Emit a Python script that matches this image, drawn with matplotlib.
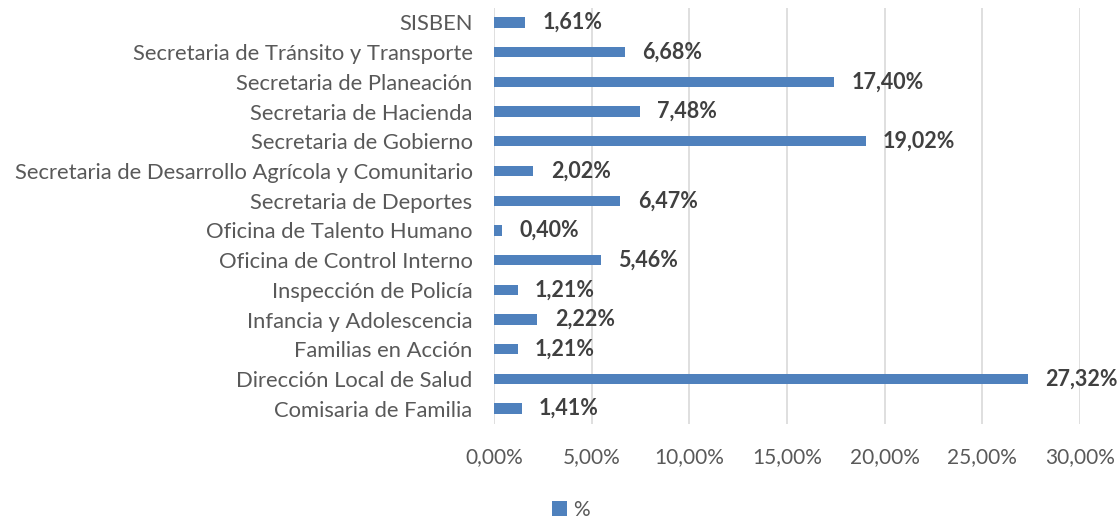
import matplotlib
matplotlib.use('Agg')
import matplotlib.pyplot as plt
from matplotlib.ticker import FuncFormatter

categories = ['Comisaria de Familia', 'Dirección Local de Salud', 'Familias en Acción',
              'Infancia y Adolescencia', 'Inspección de Policía', 'Oficina de Control Interno',
              'Oficina de Talento Humano', 'Secretaria de Deportes',
              'Secretaria de Desarrollo Agrícola y Comunitario', 'Secretaria de Gobierno',
              'Secretaria de Hacienda', 'Secretaria de Planeación',
              'Secretaria de Tránsito y Transporte', 'SISBEN']
values = [1.41, 27.32, 1.21, 2.22, 1.21, 5.46, 0.40, 6.47, 2.02, 19.02, 7.48, 17.40, 6.68, 1.61]
x_ticks = [0, 5, 10, 15, 20, 25, 30]

plt.rcParams['font.family'] = ['Lato', 'DejaVu Sans']

fig = plt.figure(figsize=(11.2, 5.21), dpi=100)
ax = fig.add_axes([0.4411, 0.1871, 0.5232, 0.7983])

ypos = range(len(categories))
bars = ax.barh(ypos, values, height=0.35, color='#4F81BD', label='%', zorder=3)

# data labels, a fixed offset to the right of each bar
for y, v in zip(ypos, values):
    ax.annotate(f'{v:.2f}%'.replace('.', ','), (v, y), xytext=(12.5, 0),
                textcoords='offset points', ha='left', va='center',
                fontsize=15.5, fontweight='bold', color='#404040')

ax.set_xlim(0, 30)
ax.set_ylim(-0.5, len(categories) - 0.5)
ax.set_yticks(list(ypos))
ax.set_yticklabels(categories, fontsize=15.8)
ax.set_xticks(x_ticks)
ax.xaxis.set_major_formatter(FuncFormatter(lambda v, p: f'{v:.2f}%'.replace('.', ',')))

ax.grid(axis='x', color='#D9D9D9', linewidth=1.2, zorder=0)
for s in ax.spines.values():
    s.set_visible(False)
ax.tick_params(axis='both', length=0, colors='#595959')
ax.tick_params(axis='x', labelsize=15, pad=17)
ax.tick_params(axis='y', pad=15.5)

fig.legend(handles=[bars], labels=['%'], loc='center', bbox_to_anchor=(0.51, 0.021),
           frameon=False, fontsize=15, labelcolor='#595959',
           handlelength=0.7, handleheight=0.7, handletextpad=0.3)

fig.savefig('out.png', dpi=100)
